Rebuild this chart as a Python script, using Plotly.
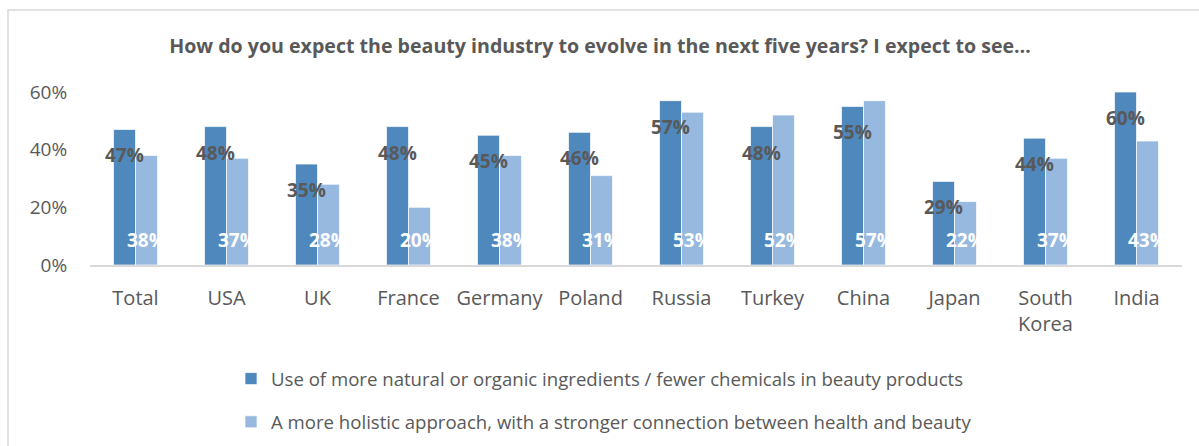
import plotly.graph_objects as go

categories = ["Total", "USA", "UK", "France", "Germany", "Poland", "Russia",
              "Turkey", "China", "Japan", "South<br>Korea", "India"]
natural = [0.47, 0.48, 0.35, 0.48, 0.45, 0.46, 0.57, 0.48, 0.55, 0.29, 0.44, 0.60]
holistic = [0.38, 0.37, 0.28, 0.20, 0.38, 0.31, 0.53, 0.52, 0.57, 0.22, 0.37, 0.43]
series_names = [
    "Use of more natural or organic ingredients / fewer chemicals in beauty products",
    "A more holistic approach, with a stronger connection between health and beauty",
]
y_ticks = [0, 0.2, 0.4, 0.6]
y_ticklabels = ["0%", "20%", "40%", "60%"]

DARK = "#4F88BC"
LIGHT = "#97B9E0"
GREY = "#595959"
FONT = "Open Sans, sans-serif"

W, H = 1199, 446
L, R, T, B = 90, 17, 92, 181

fig = go.Figure()
fig.add_trace(go.Bar(x=categories, y=natural, name=series_names[0],
                     marker=dict(color=DARK, line=dict(color="white", width=0.7)),
                     legendgroup="a"))
fig.add_trace(go.Bar(x=categories, y=holistic, name=series_names[1],
                     marker=dict(color=LIGHT, line=dict(color="white", width=0.7)),
                     legendgroup="b"))

annotations = []
for c, v in zip(categories, natural):
    annotations.append(dict(x=c, y=v, xref="x", yref="y", text=f"{round(v*100)}%",
                            showarrow=False, xshift=-11, yshift=-26, yanchor="middle",
                            font=dict(family=FONT, size=19, color=GREY, weight="bold")))
for c, v in zip(categories, holistic):
    annotations.append(dict(x=c, y=0, xref="x", yref="y", text=f"{round(v*100)}%",
                            showarrow=False, xshift=11, yshift=25, yanchor="middle",
                            font=dict(family=FONT, size=19, color="white", weight="bold")))

pw = W - L - R
ph = H - T - B
fig.add_shape(type="rect", xref="paper", yref="paper",
              x0=(8 - L) / pw, x1=(1260 - L) / pw,
              y0=(H - B - 520) / ph, y1=(H - B - 10) / ph,
              line=dict(color="#D9D9D9", width=1.5), fillcolor="rgba(0,0,0,0)", layer="below")

fig.update_layout(
    width=W, height=H,
    margin=dict(l=L, r=R, t=T, b=B, pad=0, autoexpand=False),
    paper_bgcolor="white", plot_bgcolor="white",
    barmode="group", bargap=0.517, bargroupgap=0,
    title=dict(text="How do you expect the beauty industry to evolve in the next five years? I expect to see…",
               x=600 / W, xanchor="center", y=1 - 46 / H, yanchor="middle",
               font=dict(family=FONT, size=19.6, color=GREY, weight="bold")),
    font=dict(family=FONT, color=GREY),
    showlegend=True,
    legend=dict(orientation="v", x=(231 - L) / pw, xanchor="left",
                y=(H - B - 360) / ph, yanchor="top",
                font=dict(family=FONT, size=18.6, color=GREY),
                traceorder="grouped", tracegroupgap=16,
                borderwidth=0, bgcolor="rgba(0,0,0,0)"),
    annotations=annotations,
)
fig.update_xaxes(showline=True, linecolor="#D9D9D9", linewidth=2,
                 ticks="outside", ticklen=14, tickcolor="rgba(0,0,0,0)",
                 tickfont=dict(family=FONT, size=20, color=GREY),
                 showgrid=False, zeroline=False)
fig.update_yaxes(range=[0, 0.6], tickvals=y_ticks, ticktext=y_ticklabels,
                 ticks="outside", ticklen=18, tickcolor="rgba(0,0,0,0)",
                 tickfont=dict(family=FONT, size=19, color=GREY),
                 showgrid=False, zeroline=False, showline=False)

fig.write_html("out.html", config={"displayModeBar": False},
               post_script="document.body.style.margin='0';")
